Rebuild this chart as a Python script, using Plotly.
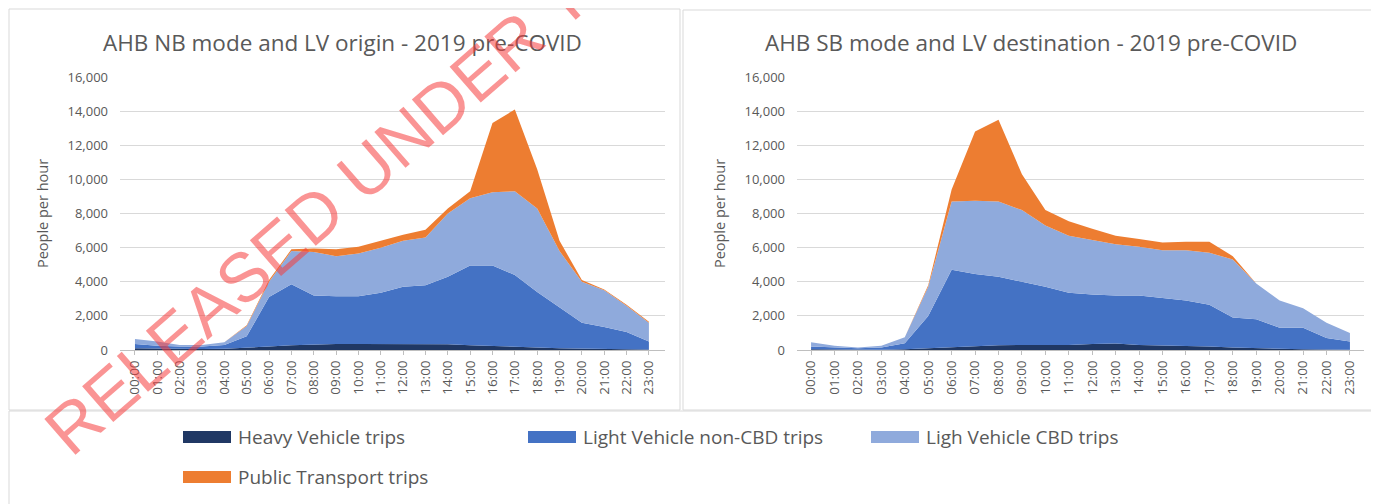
"""AHB northbound / southbound hourly people movements by mode, 2019 pre-COVID."""

import plotly.graph_objects as go

# the page body has an 8px margin, so the figure is drawn 8px smaller and
# every position below is given in screen pixels and shifted by that offset
OFF = 8
W, H = 1379 - OFF, 504 - OFF

HOURS = list(range(24))
HOUR_LABELS = [f"{h:02d}:00" for h in HOURS]

SERIES_NAMES = [
    "Heavy Vehicle trips",
    "Light Vehicle non-CBD trips",
    "Ligh Vehicle CBD trips",
    "Public Transport trips",
]

# northbound (LV origin)
nb_heavy = [100, 80, 60, 60, 70, 120, 200, 280, 330, 350, 350, 350,
            350, 350, 330, 280, 250, 200, 150, 100, 70, 50, 40, 30]
nb_lv_non_cbd = [250, 170, 140, 140, 230, 680, 2900, 3570, 2870, 2800, 2800, 3000,
                 3350, 3450, 3970, 4670, 4700, 4200, 3250, 2400, 1530, 1300, 1010, 470]
nb_lv_cbd = [300, 250, 100, 100, 150, 600, 900, 1950, 2550, 2350, 2500, 2650,
             2700, 2800, 3700, 3950, 4300, 4900, 4900, 3300, 2400, 2150, 1550, 1100]
nb_pt = [0, 0, 0, 0, 0, 50, 100, 100, 200, 400, 400, 400,
         350, 450, 300, 400, 4050, 4800, 2300, 600, 100, 50, 50, 50]

# southbound (LV destination)
sb_heavy = [50, 30, 20, 20, 40, 100, 200, 250, 280, 300, 300, 300,
            350, 380, 300, 280, 250, 200, 150, 100, 70, 50, 30, 20]
sb_lv_non_cbd = [150, 120, 80, 130, 360, 1900, 4500, 4200, 4020, 3700, 3400, 3050,
                 2900, 2820, 2900, 2770, 2650, 2450, 1750, 1700, 1230, 1250, 670, 480]
sb_lv_cbd = [250, 100, 50, 100, 350, 1700, 4000, 4300, 4400, 4200, 3600, 3350,
             3200, 3000, 2850, 2800, 2950, 3050, 3400, 2100, 1600, 1150, 900, 500]
sb_pt = [0, 0, 0, 0, 0, 100, 700, 4050, 4800, 2100, 900, 850,
         650, 500, 450, 450, 500, 650, 200, 0, 0, 0, 0, 0]

COLORS = ["#203864", "#4472C4", "#8FAADC", "#ED7D31"]
GREY_TXT = "#595959"
GRID = "#d9d9d9"
FONT = "Open Sans"


def px(x):
    return (x - OFF) / W


def py(y):
    return 1 - (y - OFF) / H


fig = go.Figure()

panels = [
    ("x", "y", [nb_heavy, nb_lv_non_cbd, nb_lv_cbd, nb_pt], "nb"),
    ("x2", "y2", [sb_heavy, sb_lv_non_cbd, sb_lv_cbd, sb_pt], "sb"),
]
for xa, ya, series, grp in panels:
    for name, vals, col in zip(SERIES_NAMES, series, COLORS):
        fig.add_trace(go.Scatter(
            x=HOURS, y=vals, name=name,
            xaxis=xa, yaxis=ya,
            stackgroup=grp,
            mode="lines",
            line=dict(width=0, color=col),
            fillcolor=col,
            showlegend=False,
            hovertemplate="%{y:,}<extra>" + name + "</extra>",
        ))

xaxis_common = dict(
    tickmode="array", tickvals=HOURS, ticktext=HOUR_LABELS,
    tickangle=-90, tickfont=dict(family=FONT, size=13.5, color=GREY_TXT),
    showgrid=False, zeroline=False, automargin=False,
    showline=True, linecolor="#bfbfbf", linewidth=1,
    ticks="outside", ticklen=4, tickcolor="#bfbfbf",
)
yaxis_common = dict(
    range=[0, 16000], dtick=2000, tickformat=",",
    tickfont=dict(family=FONT, size=13, color=GREY_TXT),
    showgrid=True, gridcolor=GRID, gridwidth=1,
    zeroline=False, showline=False, ticks="", automargin=False,
    ticklabelstandoff=11,
    title=dict(text="People per hour", standoff=15,
               font=dict(family=FONT, size=14.5, color=GREY_TXT)),
)

fig.update_layout(
    width=W, height=H,
    margin=dict(l=0, r=0, t=0, b=0),
    paper_bgcolor="white", plot_bgcolor="white",
    showlegend=False,
    xaxis=dict(xaxis_common, domain=[px(120), px(665)], anchor="y",
               range=[-0.67, 23.72]),
    yaxis=dict(yaxis_common, domain=[py(350), py(77)], anchor="x"),
    xaxis2=dict(xaxis_common, domain=[px(797), px(1364)], anchor="y2",
                range=[-0.6, 23.6]),
    yaxis2=dict(yaxis_common, domain=[py(350), py(77)], anchor="x2"),
)

# panel borders (chart areas and legend box)
shapes = []
for x0, y0, x1, y1 in [(9, 9, 680, 410), (683, 10, 1384, 410), (9, 411, 1384, 508)]:
    shapes.append(dict(type="rect", xref="paper", yref="paper",
                       x0=px(x0), x1=px(x1), y0=py(y0), y1=py(y1),
                       line=dict(color=GRID, width=1), layer="below"))

annotations = [
    dict(text="AHB NB mode and LV origin - 2019 pre-COVID", x=px(342), y=py(42),
         xref="paper", yref="paper", showarrow=False,
         xanchor="center", yanchor="middle",
         font=dict(family=FONT, size=22.5, color=GREY_TXT)),
    dict(text="AHB SB mode and LV destination - 2019 pre-COVID", x=px(1031), y=py(42),
         xref="paper", yref="paper", showarrow=False,
         xanchor="center", yanchor="middle",
         font=dict(family=FONT, size=22.5, color=GREY_TXT)),
]

# legend drawn by hand: wide Excel-style swatches
legend_pos = [(183, 437), (528, 437), (871, 437), (183, 477)]
for (lx, ly), name, col in zip(legend_pos, SERIES_NAMES, COLORS):
    shapes.append(dict(type="rect", xref="paper", yref="paper",
                       x0=px(lx), x1=px(lx + 48), y0=py(ly + 6), y1=py(ly - 6),
                       fillcolor=col, line=dict(width=0)))
    annotations.append(dict(text=name, x=px(lx + 53), y=py(ly), xref="paper", yref="paper",
                            xanchor="left", yanchor="middle", showarrow=False,
                            font=dict(family=FONT, size=19, color=GREY_TXT)))

# release watermark, running off the top of the page
annotations.append(dict(
    text="RELEASED UNDER THE OFFICIAL INFORMATION ACT",
    x=px(722), y=py(-139), xref="paper", yref="paper", showarrow=False,
    textangle=-41, xanchor="center", yanchor="middle",
    font=dict(family="Liberation Sans", size=69, color="rgba(245,60,60,0.55)"),
))

fig.update_layout(shapes=shapes, annotations=annotations)

fig.write_html("out.html")
